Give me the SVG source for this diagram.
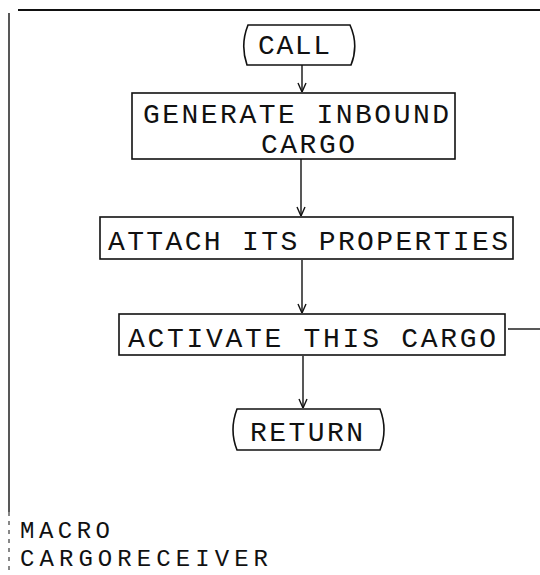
<svg xmlns="http://www.w3.org/2000/svg" width="540" height="575" viewBox="0 0 540 575">
<style>
.box{fill:none;stroke:#111;stroke-width:1.6}
.t{font-family:"Liberation Mono","DejaVu Sans Mono",monospace;font-size:28px;fill:#111}
.s{font-size:24px}
.c{fill:none;stroke:#111;stroke-width:1.4}
</style>
<defs>
<marker id="ah" viewBox="0 0 10 10" refX="10" refY="5" markerWidth="10" markerHeight="10" markerUnits="userSpaceOnUse" orient="auto">
<polyline points="1,1 10,5 1,9" fill="none" stroke="#111" stroke-width="1.4"/>
</marker>
</defs>
<rect width="540" height="575" fill="#fff"/>
<g id="frame">
<line x1="18" y1="10" x2="540" y2="10" stroke="#111" stroke-width="2"/>
<line x1="9" y1="13" x2="9" y2="512" stroke="#111" stroke-width="1.4"/>
<line x1="9" y1="512" x2="9" y2="572" stroke="#111" stroke-width="1" stroke-dasharray="4 5"/>
</g>
<g id="connectors">
<line class="c" x1="302" y1="65" x2="302" y2="92" marker-end="url(#ah)"/>
<line class="c" x1="301" y1="159" x2="301" y2="216" marker-end="url(#ah)"/>
<line class="c" x1="302" y1="260" x2="302" y2="313" marker-end="url(#ah)"/>
<line class="c" x1="303" y1="356" x2="303" y2="408" marker-end="url(#ah)"/>
<line class="c" x1="508" y1="329" x2="540" y2="329"/>
</g>
<g id="call">
<path class="box" d="M248 25 H350 Q359 45 351 65 H247 Q240 45 248 25 Z"/>
<text class="t" x="258" y="54" textLength="72" lengthAdjust="spacing">CALL</text>
</g>
<g id="generate">
<rect class="box" x="132" y="93" width="323" height="66"/>
<text class="t" x="143" y="123" textLength="306" lengthAdjust="spacing">GENERATE INBOUND</text>
<text class="t" x="261" y="153" textLength="94" lengthAdjust="spacing">CARGO</text>
</g>
<g id="attach">
<rect class="box" x="100" y="217" width="413" height="42"/>
<text class="t" x="108" y="250" textLength="400" lengthAdjust="spacing">ATTACH ITS PROPERTIES</text>
</g>
<g id="activate">
<rect class="box" x="119" y="314" width="386" height="41"/>
<text class="t" x="128" y="347" textLength="368" lengthAdjust="spacing">ACTIVATE THIS CARGO</text>
</g>
<g id="return">
<path class="box" d="M237 409 H380 Q388 430 380 450 H237 Q229 430 237 409 Z"/>
<text class="t" x="250" y="441" textLength="113" lengthAdjust="spacing">RETURN</text>
</g>
<g id="label">
<text class="t s" x="20" y="538" textLength="90" lengthAdjust="spacing">MACRO</text>
<text class="t s" x="20" y="566" textLength="248" lengthAdjust="spacing">CARGORECEIVER</text>
</g>
</svg>
